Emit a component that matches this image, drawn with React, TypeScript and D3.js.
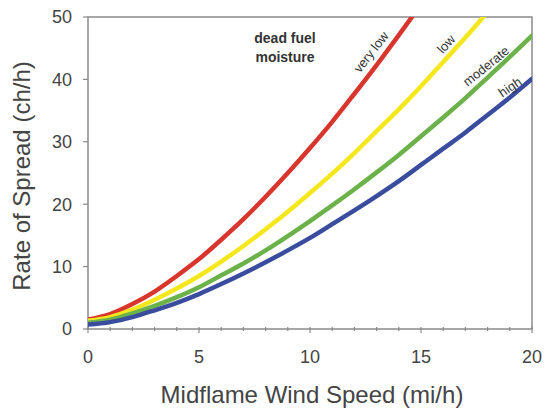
import React from "react";
import * as d3 from "d3";

const windSpeed = [0, 1, 2, 3, 4, 5, 6, 7, 8, 9, 10, 11, 12, 13, 14, 15, 16, 17, 18, 19, 20];
const veryLow = [1.5, 2.4, 4.0, 6.0, 8.5, 11.2, 14.3, 17.6, 21.2, 25.0, 29.0, 33.2, 37.7, 42.3, 47.1, 52.0];
const low = [1.3, 1.9, 3.1, 4.7, 6.5, 8.5, 10.8, 13.3, 16.0, 18.8, 21.8, 24.9, 28.2, 31.7, 35.2, 38.9, 42.8, 46.7, 50.8];
const moderate = [1.0, 1.5, 2.5, 3.7, 5.1, 6.7, 8.6, 10.5, 12.6, 14.9, 17.3, 19.8, 22.4, 25.1, 27.9, 30.9, 33.9, 37.0, 40.3, 43.6, 47.0];
const high = [0.7, 1.1, 1.9, 3.0, 4.2, 5.6, 7.2, 8.9, 10.7, 12.6, 14.6, 16.8, 19.0, 21.3, 23.7, 26.3, 28.9, 31.5, 34.3, 37.1, 40.1];
const seriesNames = ["very low", "low", "moderate", "high"];
const xTicks = [0, 5, 10, 15, 20];
const yTicks = [0, 10, 20, 30, 40, 50];

const seriesList = [veryLow, low, moderate, high];
const colors = ["#d8362d", "#f4e81c", "#6cb24a", "#3a4c9e"];
const labelPos = [
  { x: 371, y: 52, a: -52 },
  { x: 446, y: 44, a: -48 },
  { x: 486, y: 66, a: -39 },
  { x: 510, y: 87, a: -34 },
];

export default function App() {
  const W = 549, H = 411;
  const L = 88, R = 532, T = 17, B = 329;
  const x = d3.scaleLinear().domain([0, 20]).range([L, R]);
  const y = d3.scaleLinear().domain([0, 50]).range([B, T]);
  const line = d3
    .line<number>()
    .x((_, i) => x(windSpeed[i]))
    .y((d) => y(d))
    .curve(d3.curveMonotoneX);
  const font = "Liberation Sans, Arial, sans-serif";
  const minor = d3.range(0, 21, 1);
  return (
    <svg width={W} height={H} style={{ position: "absolute", left: 0, top: 0 }}>
      <rect x={0} y={0} width={W} height={H} fill="#fff" />
      <defs>
        <clipPath id="plot">
          <rect x={L} y={T} width={R - L} height={B - T + 3} />
        </clipPath>
      </defs>
      <rect x={L} y={T} width={R - L} height={B - T} fill="none" stroke="#8a8a8a" strokeWidth={1.5} />
      {minor.map((t) => (
        <line key={"m" + t} x1={x(t)} x2={x(t)} y1={B - 2} y2={B + (t % 5 === 0 ? 4 : 2)} stroke="#8a8a8a" strokeWidth={1.2} />
      ))}
      {yTicks.map((t) => (
        <line key={"yt" + t} x1={L - 5} x2={L} y1={y(t)} y2={y(t)} stroke="#8a8a8a" strokeWidth={1.2} />
      ))}
      {yTicks.map((t) => (
        <text key={"yl" + t} x={L - 16} y={y(t)} dy="0.36em" textAnchor="end" fontFamily={font} fontSize={18} fill="#444">
          {t}
        </text>
      ))}
      {xTicks.map((t) => (
        <text key={"xl" + t} x={x(t)} y={363} textAnchor="middle" fontFamily={font} fontSize={18} fill="#444">
          {t}
        </text>
      ))}
      <g clipPath="url(#plot)">
        {seriesList.map((s, i) => (
          <path key={i} d={line(s) || ""} fill="none" stroke={colors[i]} strokeWidth={4.5} strokeLinecap="round" />
        ))}
      </g>
      {seriesNames.map((n, i) => (
        <text
          key={n}
          transform={`translate(${labelPos[i].x},${labelPos[i].y}) rotate(${labelPos[i].a})`}
          textAnchor="middle"
          dy="0.35em"
          fontFamily={font}
          fontSize={13}
          fill="#333"
        >
          {n}
        </text>
      ))}
      <text x={285} y={43} textAnchor="middle" fontFamily={font} fontSize={14} fontWeight="bold" fill="#333">
        dead fuel
      </text>
      <text x={285} y={62} textAnchor="middle" fontFamily={font} fontSize={14} fontWeight="bold" fill="#333">
        moisture
      </text>
      <text x={312} y={403} textAnchor="middle" fontFamily={font} fontSize={24} fill="#444">
        Midflame Wind Speed (mi/h)
      </text>
      <text transform={`translate(30,176) rotate(-90)`} textAnchor="middle" fontFamily={font} fontSize={24} fill="#444">
        Rate of Spread (ch/h)
      </text>
    </svg>
  );
}
